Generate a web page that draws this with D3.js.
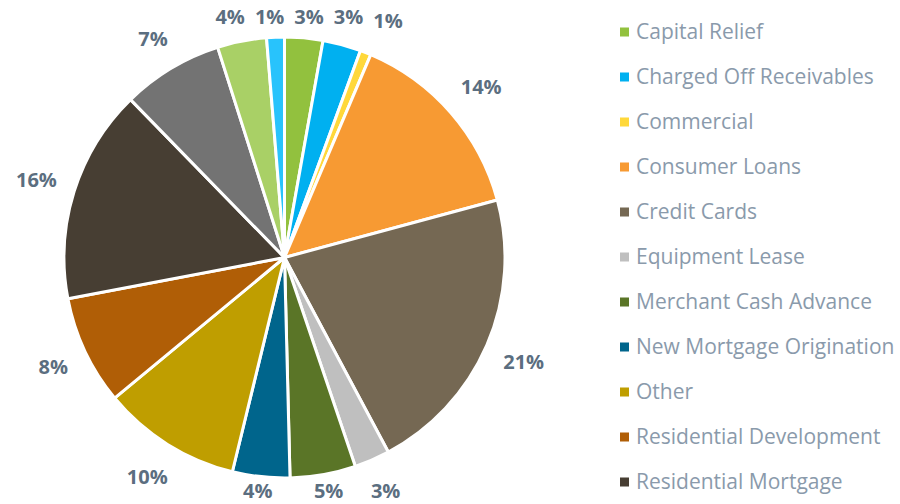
<!DOCTYPE html>
<html lang="en">
<head>
  <meta charset="UTF-8">
  <title>Portfolio by Asset Class</title>
  <script src="https://d3js.org/d3.v7.min.js"></script>
  <style>
    body { margin: 0; background: #fff; overflow: hidden; }
    .label { font: bold 20px "Open Sans", sans-serif; fill: #5b6e80; }
    .legend text { font: 21px "Open Sans", sans-serif; fill: #8a9aab; }
  </style>
</head>
<body>
  <svg id="chart" width="900" height="504"></svg>
  <script>
    // share of portfolio (%)
    const categories = [
      "Capital Relief", "Charged Off Receivables", "Commercial", "Consumer Loans",
      "Credit Cards", "Equipment Lease", "Merchant Cash Advance", "New Mortgage Origination",
      "Other", "Residential Development", "Residential Mortgage",
      "SME Loans", "Student Loans", "Trade Finance"
    ];
    const values = [2.8, 2.8, 0.8, 14.4, 21.4, 2.6, 4.8, 4.2, 10.2, 8.0, 15.7, 7.4, 3.6, 1.3];
    const colors = [
      "#92c13e", "#00b0f0", "#ffd83a", "#f79a33", "#756853", "#bfbfbf", "#5a7527",
      "#00658c", "#bf9e00", "#b05e06", "#473e33", "#737373", "#a9d066", "#28c3fc"
    ];

    const data = categories.map((name, i) => ({ name, value: values[i], color: colors[i] }));
    const total = d3.sum(values);

    const svg = d3.select("#chart");
    const height = 504;
    const cx = 284.5, cy = 257.5, radius = 220.5;

    const pie = d3.pie().value(d => d.value).sort(null);
    const arc = d3.arc().innerRadius(0).outerRadius(radius);
    const arcs = pie(data);

    const g = svg.append("g").attr("transform", `translate(${cx},${cy})`);

    g.selectAll("path")
      .data(arcs)
      .enter().append("path")
      .attr("d", arc)
      .attr("fill", d => d.data.color)
      .attr("stroke", "#fff")
      .attr("stroke-width", 3)
      .attr("stroke-linejoin", "round");

    // labels outside the pie
    const fmt = d3.format(".0%");
    const labels = g.selectAll("text.label")
      .data(arcs)
      .enter().append("text")
      .attr("class", "label")
      .attr("text-anchor", "middle")
      .attr("dominant-baseline", "central")
      .text(d => fmt(d.data.value / total));

    const boxes = [];
    labels.each(function(d) {
      const bb = this.getBBox();
      const a = (d.startAngle + d.endAngle) / 2;
      const s = Math.sin(a), c = Math.cos(a);
      const r = radius + 16 + (bb.width / 2) * Math.abs(s) + (bb.height / 2) * Math.abs(c);
      // keep inside the chart area, like the spreadsheet does
      const y = Math.max(16 - cy, Math.min(-r * c, 490 - cy));
      boxes.push({ el: this, x: r * s, y, w: bb.width + 10, h: bb.height });
    });

    // simple sideways push for crowded labels
    for (let k = 0; k < 60; k++) {
      for (let i = 0; i < boxes.length; i++) {
        for (let j = i + 1; j < boxes.length; j++) {
          const a = boxes[i], b = boxes[j];
          const ox = (a.w + b.w) / 2 - Math.abs(a.x - b.x);
          const oy = (a.h + b.h) / 2 - Math.abs(a.y - b.y);
          if (ox > 0 && oy > 0) {
            const dir = a.x < b.x ? -1 : 1;
            a.x += dir * ox / 4;
            b.x -= dir * ox / 4;
          }
        }
      }
    }
    boxes.forEach(b => d3.select(b.el).attr("x", b.x).attr("y", b.y));

    // legend - only the rows that fit in the frame are shown, as in the original
    const legendTop = 32, rowStep = 45;
    const visible = data.filter((d, i) => legendTop + i * rowStep + 12 < height);

    const legend = svg.append("g").attr("class", "legend")
      .attr("transform", `translate(620,${legendTop})`);

    const item = legend.selectAll("g")
      .data(visible)
      .enter().append("g")
      .attr("transform", (d, i) => `translate(0,${i * rowStep})`);

    item.append("rect")
      .attr("x", 0).attr("y", -4.5)
      .attr("width", 9).attr("height", 9)
      .attr("fill", d => d.color);

    item.append("text")
      .attr("x", 16)
      .attr("dy", "0.35em")
      .text(d => d.name);
  </script>
</body>
</html>
